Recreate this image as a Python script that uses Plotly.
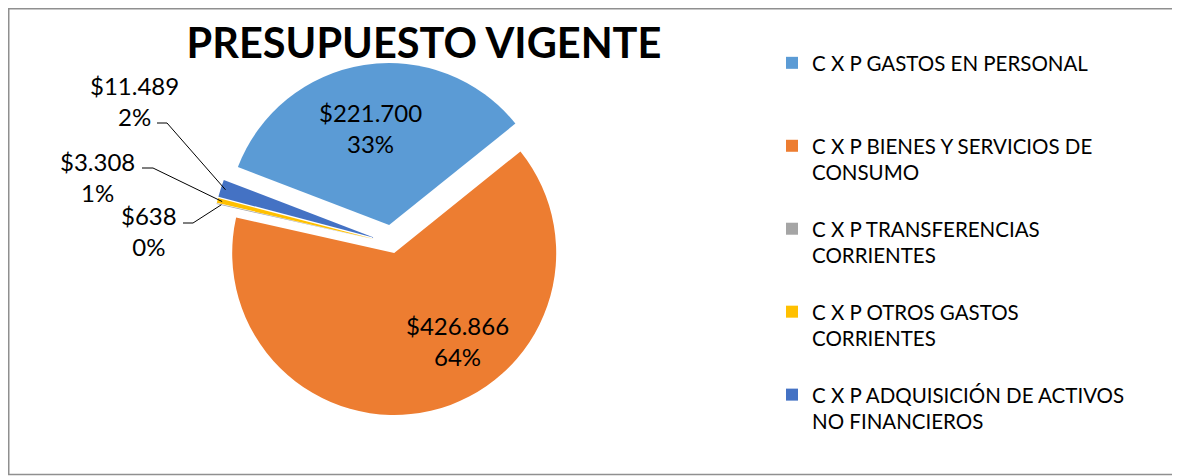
import math
import plotly.graph_objects as go

# ---------------- data ----------------
categories = [
    "C X P GASTOS EN PERSONAL",
    "C X P BIENES Y SERVICIOS DE CONSUMO",
    "C X P TRANSFERENCIAS CORRIENTES",
    "C X P OTROS GASTOS CORRIENTES",
    "C X P ADQUISICIÓN DE ACTIVOS NO FINANCIEROS",
]
legend_lines = [
    ["C X P GASTOS EN PERSONAL"],
    ["C X P BIENES Y SERVICIOS DE", "CONSUMO"],
    ["C X P TRANSFERENCIAS", "CORRIENTES"],
    ["C X P OTROS GASTOS", "CORRIENTES"],
    ["C X P ADQUISICIÓN DE ACTIVOS", "NO FINANCIEROS"],
]
values = [221700, 426866, 638, 3308, 11489]
pct_labels = ["33%", "64%", "0%", "1%", "2%"]
title_text = "PRESUPUESTO VIGENTE"

# ---------------- style ----------------
colors = ["#5B9BD5", "#ED7D31", "#A5A5A5", "#FFC000", "#4472C4"]
pulls = [0.115, 0.06, 0.11, 0.11, 0.11]
rotation = 291
PAGE_W, PAGE_H = 1180, 476
OFF = 8                      # default body margin of the html page
W, H = PAGE_W - OFF, PAGE_H - OFF
FONT = "Lato"


def fx(x):      # page pixel -> paper fraction
    return (x - OFF) / W


def fy(y):
    return 1 - (y - OFF) / H


# pie box in page pixels: centre (392, 243.5), radius 162
R_PIX = 162
CX, CY = 392, 243.5
half = R_PIX * (1 + max(pulls))
dom_x = [fx(CX - half), fx(CX + half)]
dom_y = [fy(CY + half), fy(CY - half)]


def money(v):
    return "$" + f"{v:,}".replace(",", ".")


legend_names = ["<br>".join(l + ["&nbsp;"] * (3 - len(l))) for l in legend_lines]

fig = go.Figure(go.Pie(
    labels=legend_names,
    values=values,
    sort=False,
    direction="clockwise",
    rotation=rotation,
    pull=pulls,
    marker=dict(colors=colors, line=dict(width=0)),
    textinfo="none",
    hovertext=categories,
    hoverinfo="text+value+percent",
    domain=dict(x=dom_x, y=dom_y),
))

# pie geometry (page pixels) used to attach leader lines to the slices
cx = ((dom_x[0] + dom_x[1]) / 2) * W + OFF
cy = (1 - (dom_y[0] + dom_y[1]) / 2) * H + OFF
r = min((dom_x[1] - dom_x[0]) * W, (dom_y[1] - dom_y[0]) * H) / (2 * (1 + max(pulls)))
total = sum(values)
mids = []
acc = 0
for v in values:
    a0 = rotation + 360 * acc / total
    acc += v
    a1 = rotation + 360 * acc / total
    mids.append((a0 + a1) / 2)


def slice_point(i, frac):
    t = math.radians(mids[i])
    d = r * (pulls[i] + frac)
    return cx + d * math.sin(t), cy - d * math.cos(t)


annotations = []
shapes = []

label_font = dict(family=FONT, size=24, color="#000000")

# labels inside the two big slices
inside_pos = {0: (370, 128), 1: (457, 341)}
for i, (x, y) in inside_pos.items():
    annotations.append(dict(
        x=fx(x), y=fy(y), xref="paper", yref="paper",
        text=money(values[i]) + "<br>" + pct_labels[i],
        showarrow=False, font=label_font, xanchor="center", yanchor="middle",
    ))

# outside labels with leader lines for the small slices
outside = {
    4: dict(text=(134, 101), elbow=(167, 123), end=157),
    3: dict(text=(97, 177), elbow=(153, 168), end=142),
    2: dict(text=(149, 231), elbow=(193, 223), end=183),
}
for i, spec in outside.items():
    tx, ty = spec["text"]
    annotations.append(dict(
        x=fx(tx), y=fy(ty), xref="paper", yref="paper",
        text=money(values[i]) + "<br>" + pct_labels[i],
        showarrow=False, font=label_font, xanchor="center", yanchor="middle",
    ))
    ax, ay = slice_point(i, 0.97)
    ex, ey = spec["elbow"]
    shapes.append(dict(
        type="path", xref="paper", yref="paper",
        path=f"M{fx(spec['end'])},{fy(ey)} L{fx(ex)},{fy(ey)} L{fx(ax)},{fy(ay)}",
        line=dict(color="#000000", width=1),
    ))

# chart border
shapes.append(dict(
    type="rect", xref="paper", yref="paper",
    x0=fx(OFF + 0.75), y0=fy(PAGE_H - 1.5), x1=fx(PAGE_W + 10), y1=fy(OFF + 0.75),
    line=dict(color="#8f8f8f", width=1.5),
))

fig.update_layout(
    width=W, height=H,
    margin=dict(l=0, r=0, t=0, b=0),
    paper_bgcolor="#ffffff",
    plot_bgcolor="#ffffff",
    title=dict(
        text="<b>" + title_text + "</b>",
        x=fx(424), xanchor="center", xref="paper",
        y=fy(43), yanchor="middle", yref="paper",
        font=dict(family=FONT, size=41.5, color="#000000"),
    ),
    showlegend=True,
    legend=dict(
        x=fx(772), xanchor="left",
        y=fy(43), yanchor="top",
        font=dict(family=FONT, size=20.5, color="#000000"),
        valign="top",
        traceorder="normal",
        bgcolor="rgba(0,0,0,0)",
    ),
    annotations=annotations,
    shapes=shapes,
)

fig.write_html("out.html")
